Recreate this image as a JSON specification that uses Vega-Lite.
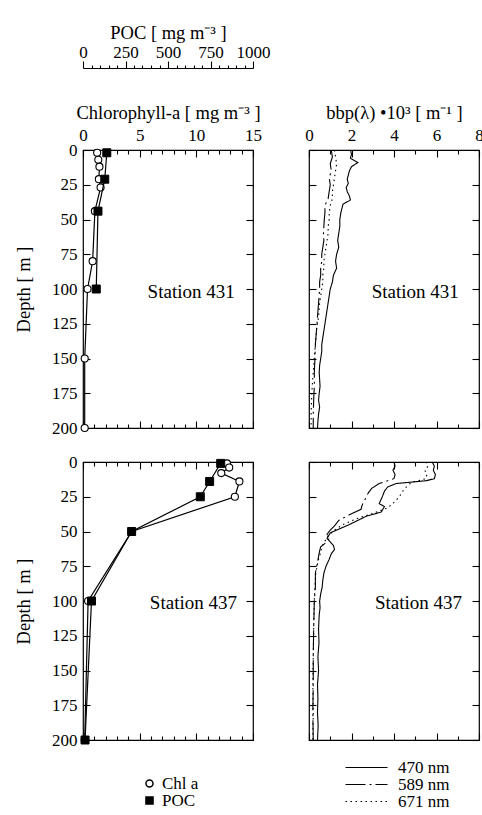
{
  "$schema": "https://vega.github.io/schema/vega-lite/v6.json",
  "background": "white",
  "padding": {"left": 13, "top": 22, "right": 0, "bottom": 0},
  "config": {
    "font": "Liberation Serif",
    "view": {"stroke": "black", "strokeWidth": 1.2},
    "axis": {"labelFont": "Liberation Serif", "titleFont": "Liberation Serif", "labelFontSize": 17, "titleFontSize": 18.5, "titleFontWeight": "normal", "labelColor": "black", "titleColor": "black", "tickColor": "black", "domainColor": "black", "grid": false, "domain": false, "tickWidth": 1.1, "labelFlush": false, "labelOverlap": false, "format": "d"},
    "legend": {"labelFont": "Liberation Serif", "labelFontSize": 17, "labelColor": "black"}
  },
  "datasets": {
    "cp": [
      {"station": "431", "series": "Chl a", "depth": 2, "value": 1.25},
      {"station": "431", "series": "Chl a", "depth": 7, "value": 1.35},
      {"station": "431", "series": "Chl a", "depth": 12, "value": 1.45},
      {"station": "431", "series": "Chl a", "depth": 21, "value": 1.4},
      {"station": "431", "series": "Chl a", "depth": 27, "value": 1.55},
      {"station": "431", "series": "Chl a", "depth": 44, "value": 1.05},
      {"station": "431", "series": "Chl a", "depth": 80, "value": 0.85},
      {"station": "431", "series": "Chl a", "depth": 100, "value": 0.4},
      {"station": "431", "series": "Chl a", "depth": 150, "value": 0.15},
      {"station": "431", "series": "Chl a", "depth": 200, "value": 0.15},
      {"station": "431", "series": "POC", "depth": 2, "value": 140},
      {"station": "431", "series": "POC", "depth": 21, "value": 128},
      {"station": "431", "series": "POC", "depth": 44, "value": 88},
      {"station": "431", "series": "POC", "depth": 100, "value": 78},
      {"station": "437", "series": "Chl a", "depth": 1, "value": 12.7},
      {"station": "437", "series": "Chl a", "depth": 4, "value": 12.9},
      {"station": "437", "series": "Chl a", "depth": 8, "value": 12.2},
      {"station": "437", "series": "Chl a", "depth": 14, "value": 13.8},
      {"station": "437", "series": "Chl a", "depth": 25, "value": 13.4},
      {"station": "437", "series": "Chl a", "depth": 50, "value": 4.3},
      {"station": "437", "series": "Chl a", "depth": 100, "value": 0.45},
      {"station": "437", "series": "Chl a", "depth": 200, "value": 0.15},
      {"station": "437", "series": "POC", "depth": 1, "value": 810},
      {"station": "437", "series": "POC", "depth": 14, "value": 745},
      {"station": "437", "series": "POC", "depth": 25, "value": 690},
      {"station": "437", "series": "POC", "depth": 50, "value": 286},
      {"station": "437", "series": "POC", "depth": 100, "value": 50},
      {"station": "437", "series": "POC", "depth": 200, "value": 12}
    ],
    "labels": [
      {"station": "431", "label": "Station 431"},
      {"station": "437", "label": "Station 437"}
    ],
    "bbp": [
      {"station": "431", "wl": "470 nm", "depth": 0, "bbp": 1.95},
      {"station": "431", "wl": "470 nm", "depth": 3, "bbp": 2.0},
      {"station": "431", "wl": "470 nm", "depth": 6, "bbp": 1.95},
      {"station": "431", "wl": "470 nm", "depth": 9, "bbp": 2.3},
      {"station": "431", "wl": "470 nm", "depth": 12, "bbp": 2.0},
      {"station": "431", "wl": "470 nm", "depth": 15, "bbp": 1.9},
      {"station": "431", "wl": "470 nm", "depth": 18, "bbp": 1.85},
      {"station": "431", "wl": "470 nm", "depth": 21, "bbp": 1.8},
      {"station": "431", "wl": "470 nm", "depth": 24, "bbp": 1.85},
      {"station": "431", "wl": "470 nm", "depth": 27, "bbp": 1.75},
      {"station": "431", "wl": "470 nm", "depth": 30, "bbp": 1.8},
      {"station": "431", "wl": "470 nm", "depth": 33, "bbp": 1.9},
      {"station": "431", "wl": "470 nm", "depth": 36, "bbp": 1.95},
      {"station": "431", "wl": "470 nm", "depth": 39, "bbp": 1.6},
      {"station": "431", "wl": "470 nm", "depth": 42, "bbp": 1.55},
      {"station": "431", "wl": "470 nm", "depth": 45, "bbp": 1.5},
      {"station": "431", "wl": "470 nm", "depth": 50, "bbp": 1.45},
      {"station": "431", "wl": "470 nm", "depth": 55, "bbp": 1.45},
      {"station": "431", "wl": "470 nm", "depth": 60, "bbp": 1.4},
      {"station": "431", "wl": "470 nm", "depth": 65, "bbp": 1.35},
      {"station": "431", "wl": "470 nm", "depth": 70, "bbp": 1.4},
      {"station": "431", "wl": "470 nm", "depth": 75, "bbp": 1.3},
      {"station": "431", "wl": "470 nm", "depth": 80, "bbp": 1.25},
      {"station": "431", "wl": "470 nm", "depth": 85, "bbp": 1.3},
      {"station": "431", "wl": "470 nm", "depth": 90, "bbp": 1.15},
      {"station": "431", "wl": "470 nm", "depth": 95, "bbp": 1.1},
      {"station": "431", "wl": "470 nm", "depth": 100, "bbp": 1.0},
      {"station": "431", "wl": "470 nm", "depth": 105, "bbp": 0.95},
      {"station": "431", "wl": "470 nm", "depth": 110, "bbp": 0.9},
      {"station": "431", "wl": "470 nm", "depth": 115, "bbp": 0.85},
      {"station": "431", "wl": "470 nm", "depth": 120, "bbp": 0.8},
      {"station": "431", "wl": "470 nm", "depth": 125, "bbp": 0.75},
      {"station": "431", "wl": "470 nm", "depth": 130, "bbp": 0.7},
      {"station": "431", "wl": "470 nm", "depth": 135, "bbp": 0.65},
      {"station": "431", "wl": "470 nm", "depth": 140, "bbp": 0.6},
      {"station": "431", "wl": "470 nm", "depth": 145, "bbp": 0.6},
      {"station": "431", "wl": "470 nm", "depth": 150, "bbp": 0.55},
      {"station": "431", "wl": "470 nm", "depth": 155, "bbp": 0.5},
      {"station": "431", "wl": "470 nm", "depth": 160, "bbp": 0.48},
      {"station": "431", "wl": "470 nm", "depth": 165, "bbp": 0.5},
      {"station": "431", "wl": "470 nm", "depth": 170, "bbp": 0.52},
      {"station": "431", "wl": "470 nm", "depth": 175, "bbp": 0.48},
      {"station": "431", "wl": "470 nm", "depth": 180, "bbp": 0.45},
      {"station": "431", "wl": "470 nm", "depth": 185, "bbp": 0.5},
      {"station": "431", "wl": "470 nm", "depth": 190, "bbp": 0.45},
      {"station": "431", "wl": "470 nm", "depth": 195, "bbp": 0.42},
      {"station": "431", "wl": "470 nm", "depth": 200, "bbp": 0.4},
      {"station": "431", "wl": "589 nm", "depth": 0, "bbp": 1.05},
      {"station": "431", "wl": "589 nm", "depth": 5, "bbp": 1.1},
      {"station": "431", "wl": "589 nm", "depth": 10, "bbp": 1.0},
      {"station": "431", "wl": "589 nm", "depth": 15, "bbp": 1.05},
      {"station": "431", "wl": "589 nm", "depth": 20, "bbp": 0.95},
      {"station": "431", "wl": "589 nm", "depth": 25, "bbp": 1.0},
      {"station": "431", "wl": "589 nm", "depth": 30, "bbp": 0.95},
      {"station": "431", "wl": "589 nm", "depth": 35, "bbp": 0.9},
      {"station": "431", "wl": "589 nm", "depth": 40, "bbp": 0.75},
      {"station": "431", "wl": "589 nm", "depth": 45, "bbp": 0.75},
      {"station": "431", "wl": "589 nm", "depth": 50, "bbp": 0.72},
      {"station": "431", "wl": "589 nm", "depth": 55, "bbp": 0.7},
      {"station": "431", "wl": "589 nm", "depth": 60, "bbp": 0.68},
      {"station": "431", "wl": "589 nm", "depth": 65, "bbp": 0.7},
      {"station": "431", "wl": "589 nm", "depth": 70, "bbp": 0.65},
      {"station": "431", "wl": "589 nm", "depth": 75, "bbp": 0.6},
      {"station": "431", "wl": "589 nm", "depth": 80, "bbp": 0.6},
      {"station": "431", "wl": "589 nm", "depth": 85, "bbp": 0.55},
      {"station": "431", "wl": "589 nm", "depth": 90, "bbp": 0.55},
      {"station": "431", "wl": "589 nm", "depth": 95, "bbp": 0.5},
      {"station": "431", "wl": "589 nm", "depth": 100, "bbp": 0.5},
      {"station": "431", "wl": "589 nm", "depth": 110, "bbp": 0.45},
      {"station": "431", "wl": "589 nm", "depth": 120, "bbp": 0.4},
      {"station": "431", "wl": "589 nm", "depth": 130, "bbp": 0.35},
      {"station": "431", "wl": "589 nm", "depth": 140, "bbp": 0.3},
      {"station": "431", "wl": "589 nm", "depth": 150, "bbp": 0.28},
      {"station": "431", "wl": "589 nm", "depth": 160, "bbp": 0.25},
      {"station": "431", "wl": "589 nm", "depth": 170, "bbp": 0.25},
      {"station": "431", "wl": "589 nm", "depth": 180, "bbp": 0.22},
      {"station": "431", "wl": "589 nm", "depth": 190, "bbp": 0.2},
      {"station": "431", "wl": "589 nm", "depth": 200, "bbp": 0.2},
      {"station": "431", "wl": "671 nm", "depth": 0, "bbp": 1.2},
      {"station": "431", "wl": "671 nm", "depth": 5, "bbp": 1.25},
      {"station": "431", "wl": "671 nm", "depth": 10, "bbp": 1.3},
      {"station": "431", "wl": "671 nm", "depth": 15, "bbp": 1.25},
      {"station": "431", "wl": "671 nm", "depth": 20, "bbp": 1.2},
      {"station": "431", "wl": "671 nm", "depth": 25, "bbp": 1.15},
      {"station": "431", "wl": "671 nm", "depth": 30, "bbp": 1.1},
      {"station": "431", "wl": "671 nm", "depth": 35, "bbp": 1.1},
      {"station": "431", "wl": "671 nm", "depth": 40, "bbp": 1.0},
      {"station": "431", "wl": "671 nm", "depth": 45, "bbp": 0.95},
      {"station": "431", "wl": "671 nm", "depth": 50, "bbp": 0.95},
      {"station": "431", "wl": "671 nm", "depth": 55, "bbp": 0.9},
      {"station": "431", "wl": "671 nm", "depth": 60, "bbp": 0.9},
      {"station": "431", "wl": "671 nm", "depth": 65, "bbp": 0.85},
      {"station": "431", "wl": "671 nm", "depth": 70, "bbp": 0.8},
      {"station": "431", "wl": "671 nm", "depth": 75, "bbp": 0.75},
      {"station": "431", "wl": "671 nm", "depth": 80, "bbp": 0.7},
      {"station": "431", "wl": "671 nm", "depth": 85, "bbp": 0.7},
      {"station": "431", "wl": "671 nm", "depth": 90, "bbp": 0.65},
      {"station": "431", "wl": "671 nm", "depth": 95, "bbp": 0.65},
      {"station": "431", "wl": "671 nm", "depth": 100, "bbp": 0.6},
      {"station": "431", "wl": "671 nm", "depth": 110, "bbp": 0.5},
      {"station": "431", "wl": "671 nm", "depth": 120, "bbp": 0.45},
      {"station": "431", "wl": "671 nm", "depth": 130, "bbp": 0.35},
      {"station": "431", "wl": "671 nm", "depth": 140, "bbp": 0.3},
      {"station": "431", "wl": "671 nm", "depth": 150, "bbp": 0.25},
      {"station": "431", "wl": "671 nm", "depth": 160, "bbp": 0.2},
      {"station": "431", "wl": "671 nm", "depth": 170, "bbp": 0.15},
      {"station": "431", "wl": "671 nm", "depth": 180, "bbp": 0.12},
      {"station": "431", "wl": "671 nm", "depth": 190, "bbp": 0.1},
      {"station": "431", "wl": "671 nm", "depth": 200, "bbp": 0.1},
      {"station": "437", "wl": "470 nm", "depth": 0, "bbp": 5.8},
      {"station": "437", "wl": "470 nm", "depth": 3, "bbp": 5.9},
      {"station": "437", "wl": "470 nm", "depth": 6, "bbp": 5.85},
      {"station": "437", "wl": "470 nm", "depth": 9, "bbp": 5.95},
      {"station": "437", "wl": "470 nm", "depth": 12, "bbp": 5.9},
      {"station": "437", "wl": "470 nm", "depth": 13.5, "bbp": 5.5},
      {"station": "437", "wl": "470 nm", "depth": 15.5, "bbp": 4.1},
      {"station": "437", "wl": "470 nm", "depth": 18, "bbp": 3.7},
      {"station": "437", "wl": "470 nm", "depth": 21, "bbp": 3.55},
      {"station": "437", "wl": "470 nm", "depth": 25, "bbp": 3.45},
      {"station": "437", "wl": "470 nm", "depth": 30, "bbp": 3.3},
      {"station": "437", "wl": "470 nm", "depth": 32, "bbp": 3.55},
      {"station": "437", "wl": "470 nm", "depth": 36, "bbp": 3.4},
      {"station": "437", "wl": "470 nm", "depth": 39, "bbp": 2.7},
      {"station": "437", "wl": "470 nm", "depth": 42, "bbp": 2.3},
      {"station": "437", "wl": "470 nm", "depth": 45, "bbp": 1.9},
      {"station": "437", "wl": "470 nm", "depth": 49, "bbp": 1.3},
      {"station": "437", "wl": "470 nm", "depth": 51, "bbp": 1.0},
      {"station": "437", "wl": "470 nm", "depth": 55, "bbp": 0.85},
      {"station": "437", "wl": "470 nm", "depth": 60, "bbp": 1.15},
      {"station": "437", "wl": "470 nm", "depth": 63, "bbp": 1.2},
      {"station": "437", "wl": "470 nm", "depth": 66, "bbp": 1.05},
      {"station": "437", "wl": "470 nm", "depth": 70, "bbp": 0.95},
      {"station": "437", "wl": "470 nm", "depth": 75, "bbp": 0.8},
      {"station": "437", "wl": "470 nm", "depth": 80, "bbp": 0.7},
      {"station": "437", "wl": "470 nm", "depth": 85, "bbp": 0.65},
      {"station": "437", "wl": "470 nm", "depth": 90, "bbp": 0.62},
      {"station": "437", "wl": "470 nm", "depth": 95, "bbp": 0.55},
      {"station": "437", "wl": "470 nm", "depth": 100, "bbp": 0.5},
      {"station": "437", "wl": "470 nm", "depth": 105, "bbp": 0.52},
      {"station": "437", "wl": "470 nm", "depth": 110, "bbp": 0.48},
      {"station": "437", "wl": "470 nm", "depth": 120, "bbp": 0.45},
      {"station": "437", "wl": "470 nm", "depth": 130, "bbp": 0.47},
      {"station": "437", "wl": "470 nm", "depth": 140, "bbp": 0.42},
      {"station": "437", "wl": "470 nm", "depth": 150, "bbp": 0.45},
      {"station": "437", "wl": "470 nm", "depth": 160, "bbp": 0.4},
      {"station": "437", "wl": "470 nm", "depth": 170, "bbp": 0.42},
      {"station": "437", "wl": "470 nm", "depth": 180, "bbp": 0.4},
      {"station": "437", "wl": "470 nm", "depth": 190, "bbp": 0.43},
      {"station": "437", "wl": "470 nm", "depth": 200, "bbp": 0.4},
      {"station": "437", "wl": "589 nm", "depth": 0, "bbp": 4.0},
      {"station": "437", "wl": "589 nm", "depth": 3, "bbp": 4.05},
      {"station": "437", "wl": "589 nm", "depth": 6, "bbp": 3.95},
      {"station": "437", "wl": "589 nm", "depth": 9, "bbp": 4.05},
      {"station": "437", "wl": "589 nm", "depth": 12, "bbp": 4.0},
      {"station": "437", "wl": "589 nm", "depth": 14, "bbp": 3.6},
      {"station": "437", "wl": "589 nm", "depth": 15.5, "bbp": 3.3},
      {"station": "437", "wl": "589 nm", "depth": 19, "bbp": 2.95},
      {"station": "437", "wl": "589 nm", "depth": 22, "bbp": 2.8},
      {"station": "437", "wl": "589 nm", "depth": 25, "bbp": 2.7},
      {"station": "437", "wl": "589 nm", "depth": 28, "bbp": 2.6},
      {"station": "437", "wl": "589 nm", "depth": 31, "bbp": 2.5},
      {"station": "437", "wl": "589 nm", "depth": 34, "bbp": 2.45},
      {"station": "437", "wl": "589 nm", "depth": 38, "bbp": 1.9},
      {"station": "437", "wl": "589 nm", "depth": 42, "bbp": 1.4},
      {"station": "437", "wl": "589 nm", "depth": 46, "bbp": 1.2},
      {"station": "437", "wl": "589 nm", "depth": 49, "bbp": 1.0},
      {"station": "437", "wl": "589 nm", "depth": 52, "bbp": 0.85},
      {"station": "437", "wl": "589 nm", "depth": 55, "bbp": 0.95},
      {"station": "437", "wl": "589 nm", "depth": 58, "bbp": 0.8},
      {"station": "437", "wl": "589 nm", "depth": 61, "bbp": 0.55},
      {"station": "437", "wl": "589 nm", "depth": 64, "bbp": 0.5},
      {"station": "437", "wl": "589 nm", "depth": 68, "bbp": 0.45},
      {"station": "437", "wl": "589 nm", "depth": 72, "bbp": 0.4},
      {"station": "437", "wl": "589 nm", "depth": 76, "bbp": 0.35},
      {"station": "437", "wl": "589 nm", "depth": 80, "bbp": 0.3},
      {"station": "437", "wl": "589 nm", "depth": 90, "bbp": 0.3},
      {"station": "437", "wl": "589 nm", "depth": 100, "bbp": 0.25},
      {"station": "437", "wl": "589 nm", "depth": 120, "bbp": 0.22},
      {"station": "437", "wl": "589 nm", "depth": 140, "bbp": 0.2},
      {"station": "437", "wl": "589 nm", "depth": 160, "bbp": 0.2},
      {"station": "437", "wl": "589 nm", "depth": 180, "bbp": 0.18},
      {"station": "437", "wl": "589 nm", "depth": 200, "bbp": 0.2},
      {"station": "437", "wl": "671 nm", "depth": 0, "bbp": 5.5},
      {"station": "437", "wl": "671 nm", "depth": 3, "bbp": 5.6},
      {"station": "437", "wl": "671 nm", "depth": 6, "bbp": 5.45},
      {"station": "437", "wl": "671 nm", "depth": 9, "bbp": 5.55},
      {"station": "437", "wl": "671 nm", "depth": 12, "bbp": 5.5},
      {"station": "437", "wl": "671 nm", "depth": 14, "bbp": 5.0},
      {"station": "437", "wl": "671 nm", "depth": 16, "bbp": 4.7},
      {"station": "437", "wl": "671 nm", "depth": 20, "bbp": 4.45},
      {"station": "437", "wl": "671 nm", "depth": 25, "bbp": 4.25},
      {"station": "437", "wl": "671 nm", "depth": 29, "bbp": 4.0},
      {"station": "437", "wl": "671 nm", "depth": 33, "bbp": 3.7},
      {"station": "437", "wl": "671 nm", "depth": 37, "bbp": 3.0},
      {"station": "437", "wl": "671 nm", "depth": 41, "bbp": 2.2},
      {"station": "437", "wl": "671 nm", "depth": 45, "bbp": 1.6},
      {"station": "437", "wl": "671 nm", "depth": 49, "bbp": 1.2},
      {"station": "437", "wl": "671 nm", "depth": 53, "bbp": 0.9},
      {"station": "437", "wl": "671 nm", "depth": 57, "bbp": 0.75},
      {"station": "437", "wl": "671 nm", "depth": 61, "bbp": 0.6},
      {"station": "437", "wl": "671 nm", "depth": 65, "bbp": 0.55},
      {"station": "437", "wl": "671 nm", "depth": 70, "bbp": 0.45},
      {"station": "437", "wl": "671 nm", "depth": 75, "bbp": 0.38},
      {"station": "437", "wl": "671 nm", "depth": 80, "bbp": 0.32},
      {"station": "437", "wl": "671 nm", "depth": 90, "bbp": 0.28},
      {"station": "437", "wl": "671 nm", "depth": 100, "bbp": 0.25},
      {"station": "437", "wl": "671 nm", "depth": 120, "bbp": 0.22},
      {"station": "437", "wl": "671 nm", "depth": 140, "bbp": 0.2},
      {"station": "437", "wl": "671 nm", "depth": 160, "bbp": 0.18},
      {"station": "437", "wl": "671 nm", "depth": 180, "bbp": 0.2},
      {"station": "437", "wl": "671 nm", "depth": 200, "bbp": 0.18}
    ]
  },
  "columns": 2,
  "spacing": {"row": 34, "column": 56},
  "bounds": "flush",
  "resolve": {"legend": {"shape": "independent", "fill": "independent", "strokeDash": "independent"}},
  "concat": [
    {
      "width": 170, "height": 278,
      "layer": [
        {
          "data": {"name": "cp"},
          "transform": [{"filter": "datum.station === '431' && datum.series === 'Chl a'"}],
          "mark": {"type": "line", "color": "black", "strokeWidth": 1.2},
          "encoding": {
            "x": {"field": "value", "type": "quantitative", "scale": {"domain": [0, 15], "nice": false},
              "axis": {"orient": "top", "values": [0,1,2,3,4,5,6,7,8,9,10,11,12,13,14,15], "tickSize": {"condition": {"test": "datum.value % 5 === 0", "value": -7}, "value": -4}, "labelExpr": "datum.value % 5 === 0 ? datum.label : ''", "labelPadding": 13, "title": "Chlorophyll-a  [ mg m⁻³ ]", "titlePadding": 1}},
            "y": {"field": "depth", "type": "quantitative", "scale": {"domain": [0, 200], "reverse": true, "nice": false},
              "axis": {"orient": "left", "values": [0,25,50,75,100,125,150,175,200], "tickSize": -7, "labelPadding": 13, "title": "Depth  [ m ]", "titlePadding": 18}},
            "order": {"field": "depth", "type": "quantitative"}
          }
        },
        {
          "data": {"name": "cp"},
          "transform": [{"filter": "datum.station === '431' && datum.series === 'Chl a'"}],
          "mark": {"type": "point", "filled": true, "stroke": "black", "strokeWidth": 1.1, "size": 50, "opacity": 1},
          "encoding": {
            "x": {"field": "value", "type": "quantitative", "scale": {"domain": [0, 15], "nice": false},
              "axis": {"orient": "bottom", "values": [0,1,2,3,4,5,6,7,8,9,10,11,12,13,14,15], "tickSize": {"condition": {"test": "datum.value % 5 === 0", "value": -7}, "value": -4}, "labels": false, "title": null}},
            "y": {"field": "depth", "type": "quantitative", "axis": {"orient": "right", "values": [0,25,50,75,100,125,150,175,200], "tickSize": -7, "labels": false, "title": null}},
            "shape": {"field": "series", "type": "nominal", "scale": {"domain": ["Chl a", "POC"], "range": ["circle", "square"]}, "legend": null},
            "fill": {"field": "series", "type": "nominal", "scale": {"domain": ["Chl a", "POC"], "range": ["white", "black"]}, "legend": null}
          }
        },
        {
          "data": {"name": "cp"},
          "transform": [{"filter": "datum.station === '431' && datum.series === 'POC'"}],
          "mark": {"type": "line", "color": "black", "strokeWidth": 1.2},
          "encoding": {
            "x": {"field": "value", "type": "quantitative", "scale": {"domain": [0, 1000], "nice": false},
              "axis": {"orient": "top", "offset": 82, "values": [0,50,100,150,200,250,300,350,400,450,500,550,600,650,700,750,800,850,900,950,1000], "tickSize": {"condition": {"test": "datum.value % 250 === 0", "value": 7}, "value": 3}, "labelExpr": "datum.value % 250 === 0 ? datum.label : ''", "labelPadding": 0, "domain": true, "domainWidth": 1.1, "title": "POC  [ mg m⁻³ ]", "titlePadding": 1}},
            "y": {"field": "depth", "type": "quantitative", "axis": null},
            "order": {"field": "depth", "type": "quantitative"}
          }
        },
        {
          "data": {"name": "cp"},
          "transform": [{"filter": "datum.station === '431' && datum.series === 'POC'"}],
          "mark": {"type": "point", "filled": true, "stroke": "black", "strokeWidth": 1, "size": 64, "opacity": 1},
          "encoding": {
            "x": {"field": "value", "type": "quantitative", "scale": {"domain": [0, 1000], "nice": false}, "axis": null},
            "y": {"field": "depth", "type": "quantitative", "axis": null},
            "shape": {"field": "series", "type": "nominal", "legend": null},
            "fill": {"field": "series", "type": "nominal", "legend": null}
          }
        },
        {
          "data": {"name": "labels"},
          "transform": [{"filter": "datum.station === '431'"}],
          "mark": {"type": "text", "align": "left", "baseline": "middle", "font": "Liberation Serif", "fontSize": 19, "color": "black"},
          "encoding": {
            "x": {"datum": 5.7, "type": "quantitative", "scale": {"domain": [0, 15], "nice": false}, "axis": null},
            "y": {"datum": 102, "type": "quantitative", "axis": null},
            "text": {"field": "label"}
          }
        }
      ],
      "resolve": {"scale": {"x": "independent"}, "axis": {"x": "independent", "y": "independent"}}
    },
    {
      "width": 170, "height": 278,
      "layer": [
        {
          "data": {"name": "bbp"},
          "transform": [{"filter": "datum.station === '431' && datum.wl === '470 nm'"}],
          "mark": {"type": "line", "color": "black", "strokeWidth": 1.1},
          "encoding": {
            "x": {"field": "bbp", "type": "quantitative", "scale": {"domain": [0, 8], "nice": false},
              "axis": {"orient": "top", "values": [0,1,2,3,4,5,6,7,8], "tickSize": {"condition": {"test": "datum.value % 2 === 0", "value": -7}, "value": -4}, "labelExpr": "datum.value % 2 === 0 ? datum.label : ''", "labelPadding": 13, "title": "bbp(λ) •10³  [ m⁻¹ ]", "titlePadding": 1}},
            "y": {"field": "depth", "type": "quantitative", "scale": {"domain": [0, 200], "reverse": true, "nice": false},
              "axis": {"orient": "left", "values": [0,25,50,75,100,125,150,175,200], "tickSize": -7, "labels": false, "title": null}},
            "strokeDash": {"field": "wl", "type": "nominal", "scale": {"domain": ["470 nm", "589 nm", "671 nm"], "range": [[1, 0], [20, 4, 2, 4], [1.5, 3.5]]}, "legend": null},
            "order": {"field": "depth", "type": "quantitative"}
          }
        },
        {
          "data": {"name": "bbp"},
          "transform": [{"filter": "datum.station === '431' && datum.wl !== '470 nm'"}],
          "mark": {"type": "line", "color": "black", "strokeWidth": 1.1},
          "encoding": {
            "x": {"field": "bbp", "type": "quantitative",
              "axis": {"orient": "bottom", "values": [0,1,2,3,4,5,6,7,8], "tickSize": {"condition": {"test": "datum.value % 2 === 0", "value": -7}, "value": -4}, "labels": false, "title": null}},
            "y": {"field": "depth", "type": "quantitative", "axis": {"orient": "right", "values": [0,25,50,75,100,125,150,175,200], "tickSize": -7, "labels": false, "title": null}},
            "strokeDash": {"field": "wl", "type": "nominal", "legend": null},
            "order": {"field": "depth", "type": "quantitative"}
          }
        },
        {
          "data": {"name": "labels"},
          "transform": [{"filter": "datum.station === '431'"}],
          "mark": {"type": "text", "align": "left", "baseline": "middle", "font": "Liberation Serif", "fontSize": 19, "color": "black"},
          "encoding": {
            "x": {"datum": 2.95, "type": "quantitative", "axis": null},
            "y": {"datum": 102, "type": "quantitative", "axis": null},
            "text": {"field": "label"}
          }
        }
      ],
      "resolve": {"axis": {"x": "independent", "y": "independent"}}
    },
    {
      "width": 170, "height": 278,
      "layer": [
        {
          "data": {"name": "cp"},
          "transform": [{"filter": "datum.station === '437' && datum.series === 'Chl a'"}],
          "mark": {"type": "line", "color": "black", "strokeWidth": 1.2},
          "encoding": {
            "x": {"field": "value", "type": "quantitative", "scale": {"domain": [0, 15], "nice": false},
              "axis": {"orient": "top", "values": [0,1,2,3,4,5,6,7,8,9,10,11,12,13,14,15], "tickSize": {"condition": {"test": "datum.value % 5 === 0", "value": -7}, "value": -4}, "labels": false, "title": null}},
            "y": {"field": "depth", "type": "quantitative", "scale": {"domain": [0, 200], "reverse": true, "nice": false},
              "axis": {"orient": "left", "values": [0,25,50,75,100,125,150,175,200], "tickSize": -7, "labelPadding": 13, "title": "Depth  [ m ]", "titlePadding": 18}},
            "order": {"field": "depth", "type": "quantitative"}
          }
        },
        {
          "data": {"name": "cp"},
          "transform": [{"filter": "datum.station === '437' && datum.series === 'Chl a'"}],
          "mark": {"type": "point", "filled": true, "stroke": "black", "strokeWidth": 1.1, "size": 50, "opacity": 1},
          "encoding": {
            "x": {"field": "value", "type": "quantitative", "scale": {"domain": [0, 15], "nice": false},
              "axis": {"orient": "bottom", "values": [0,1,2,3,4,5,6,7,8,9,10,11,12,13,14,15], "tickSize": {"condition": {"test": "datum.value % 5 === 0", "value": -7}, "value": -4}, "labels": false, "title": null}},
            "y": {"field": "depth", "type": "quantitative", "axis": {"orient": "right", "values": [0,25,50,75,100,125,150,175,200], "tickSize": -7, "labels": false, "title": null}},
            "shape": {"field": "series", "type": "nominal", "scale": {"domain": ["Chl a", "POC"], "range": ["circle", "square"]}, "legend": {"orient": "none", "legendX": 58, "legendY": 313, "title": null, "symbolSize": 50, "labelOffset": 4, "rowPadding": -2, "encode": {"symbols": {"update": {"stroke": {"value": "black"}, "strokeWidth": {"value": 1}}}}}},
            "fill": {"field": "series", "type": "nominal", "scale": {"domain": ["Chl a", "POC"], "range": ["white", "black"]}, "legend": {"orient": "none", "legendX": 58, "legendY": 313, "title": null, "symbolSize": 50, "labelOffset": 4, "rowPadding": -2, "encode": {"symbols": {"update": {"stroke": {"value": "black"}, "strokeWidth": {"value": 1}}}}}}
          }
        },
        {
          "data": {"name": "cp"},
          "transform": [{"filter": "datum.station === '437' && datum.series === 'POC'"}],
          "mark": {"type": "line", "color": "black", "strokeWidth": 1.2},
          "encoding": {
            "x": {"field": "value", "type": "quantitative", "scale": {"domain": [0, 1000], "nice": false}, "axis": null},
            "y": {"field": "depth", "type": "quantitative", "axis": null},
            "order": {"field": "depth", "type": "quantitative"}
          }
        },
        {
          "data": {"name": "cp"},
          "transform": [{"filter": "datum.station === '437' && datum.series === 'POC'"}],
          "mark": {"type": "point", "filled": true, "stroke": "black", "strokeWidth": 1, "size": 64, "opacity": 1},
          "encoding": {
            "x": {"field": "value", "type": "quantitative", "scale": {"domain": [0, 1000], "nice": false}, "axis": null},
            "y": {"field": "depth", "type": "quantitative", "axis": null},
            "shape": {"field": "series", "type": "nominal", "legend": {"orient": "none", "legendX": 58, "legendY": 313, "title": null, "symbolSize": 50, "labelOffset": 4, "rowPadding": -2, "encode": {"symbols": {"update": {"stroke": {"value": "black"}, "strokeWidth": {"value": 1}}}}}},
            "fill": {"field": "series", "type": "nominal", "legend": {"orient": "none", "legendX": 58, "legendY": 313, "title": null, "symbolSize": 50, "labelOffset": 4, "rowPadding": -2, "encode": {"symbols": {"update": {"stroke": {"value": "black"}, "strokeWidth": {"value": 1}}}}}}
          }
        },
        {
          "data": {"name": "labels"},
          "transform": [{"filter": "datum.station === '437'"}],
          "mark": {"type": "text", "align": "left", "baseline": "middle", "font": "Liberation Serif", "fontSize": 19, "color": "black"},
          "encoding": {
            "x": {"datum": 5.9, "type": "quantitative", "scale": {"domain": [0, 15], "nice": false}, "axis": null},
            "y": {"datum": 101.5, "type": "quantitative", "axis": null},
            "text": {"field": "label"}
          }
        }
      ],
      "resolve": {"scale": {"x": "independent"}, "axis": {"x": "independent", "y": "independent"}}
    },
    {
      "width": 170, "height": 278,
      "layer": [
        {
          "data": {"name": "bbp"},
          "transform": [{"filter": "datum.station === '437' && datum.wl === '470 nm'"}],
          "mark": {"type": "line", "color": "black", "strokeWidth": 1.1},
          "encoding": {
            "x": {"field": "bbp", "type": "quantitative", "scale": {"domain": [0, 8], "nice": false},
              "axis": {"orient": "top", "values": [0,1,2,3,4,5,6,7,8], "tickSize": {"condition": {"test": "datum.value % 2 === 0", "value": -7}, "value": -4}, "labels": false, "title": null}},
            "y": {"field": "depth", "type": "quantitative", "scale": {"domain": [0, 200], "reverse": true, "nice": false},
              "axis": {"orient": "left", "values": [0,25,50,75,100,125,150,175,200], "tickSize": -7, "labels": false, "title": null}},
            "strokeDash": {"field": "wl", "type": "nominal", "scale": {"domain": ["470 nm", "589 nm", "671 nm"], "range": [[1, 0], [20, 4, 2, 4], [1.5, 3.5]]},
              "legend": {"orient": "none", "legendX": 49, "legendY": 297, "title": null, "symbolType": "M-5.25,0H5.25", "symbolSize": 64, "symbolStrokeWidth": 1.2, "symbolStrokeColor": "black", "symbolFillColor": "transparent", "labelOffset": 23, "rowPadding": -3}},
            "order": {"field": "depth", "type": "quantitative"}
          }
        },
        {
          "data": {"name": "bbp"},
          "transform": [{"filter": "datum.station === '437' && datum.wl !== '470 nm'"}],
          "mark": {"type": "line", "color": "black", "strokeWidth": 1.1},
          "encoding": {
            "x": {"field": "bbp", "type": "quantitative",
              "axis": {"orient": "bottom", "values": [0,1,2,3,4,5,6,7,8], "tickSize": {"condition": {"test": "datum.value % 2 === 0", "value": -7}, "value": -4}, "labels": false, "title": null}},
            "y": {"field": "depth", "type": "quantitative", "axis": {"orient": "right", "values": [0,25,50,75,100,125,150,175,200], "tickSize": -7, "labels": false, "title": null}},
            "strokeDash": {"field": "wl", "type": "nominal", "legend": {"orient": "none", "legendX": 49, "legendY": 297, "title": null, "symbolType": "M-5.25,0H5.25", "symbolSize": 64, "symbolStrokeWidth": 1.2, "symbolStrokeColor": "black", "symbolFillColor": "transparent", "labelOffset": 23, "rowPadding": -3}},
            "order": {"field": "depth", "type": "quantitative"}
          }
        },
        {
          "data": {"name": "labels"},
          "transform": [{"filter": "datum.station === '437'"}],
          "mark": {"type": "text", "align": "left", "baseline": "middle", "font": "Liberation Serif", "fontSize": 19, "color": "black"},
          "encoding": {
            "x": {"datum": 3.1, "type": "quantitative", "axis": null},
            "y": {"datum": 101.5, "type": "quantitative", "axis": null},
            "text": {"field": "label"}
          }
        }
      ],
      "resolve": {"axis": {"x": "independent", "y": "independent"}}
    }
  ]
}
